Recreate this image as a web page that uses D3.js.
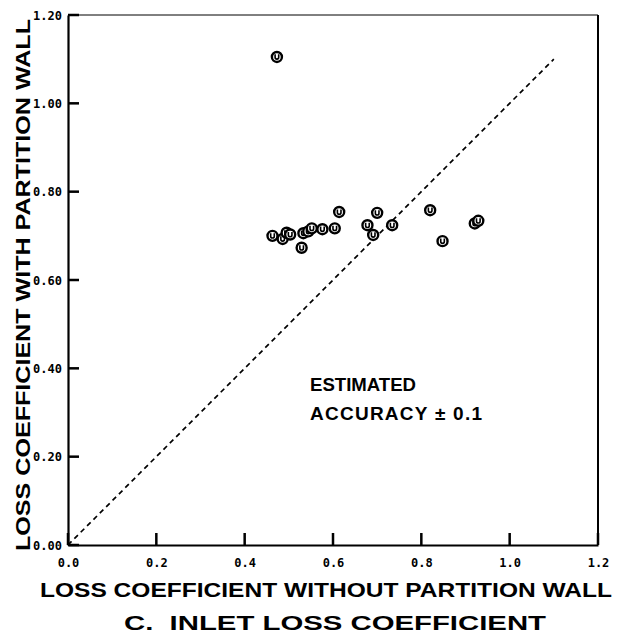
<!DOCTYPE html>
<html><head><meta charset="utf-8">
<script src="https://cdn.jsdelivr.net/npm/d3@7"></script>
<style>body{margin:0;background:#fff}svg{display:block}</style>
</head><body>
<script>
const xVals = [0.463,0.486,0.495,0.503,0.529,0.533,0.544,0.552,0.576,0.604,0.614,0.678,0.691,0.700,0.734,0.820,0.848,0.921,0.929,0.473];
const yVals = [0.700,0.693,0.707,0.703,0.673,0.706,0.710,0.717,0.715,0.717,0.754,0.724,0.702,0.752,0.724,0.758,0.688,0.728,0.734,1.105];
const xTicks = [0,0.2,0.4,0.6,0.8,1.0,1.2];
const xTickLabels = ["0.0","0.2","0.4","0.6","0.8","1.0","1.2"];
const yTicks = [0,0.2,0.4,0.6,0.8,1.0,1.2];
const yTickLabels = ["0.00","0.20","0.40","0.60","0.80","1.00","1.20"];
const refLine = [0,1.1];
const xTitle = "LOSS COEFFICIENT WITHOUT PARTITION WALL";
const yTitle = "LOSS COEFFICIENT WITH PARTITION WALL";
const caption = "C.  INLET LOSS COEFFICIENT";
const note1 = "ESTIMATED";
const note2 = "ACCURACY \u00B1 0.1";

const W=618,H=634;
const svg=d3.select("body").append("svg").attr("width",W).attr("height",H);
const x=d3.scaleLinear().domain([0,1.2]).range([68,598]);
const y=d3.scaleLinear().domain([0,1.2]).range([545,15]);

// frame
svg.append("line").attr("x1",x(0)).attr("x2",x(1.2)).attr("y1",y(1.2)).attr("y2",y(1.2)).attr("stroke","#000").attr("stroke-width",1);
svg.append("line").attr("x1",x(1.2)).attr("x2",x(1.2)).attr("y1",y(1.2)).attr("y2",y(0)).attr("stroke","#000").attr("stroke-width",2);

const tickFont = "bold 12px 'DejaVu Sans Mono', monospace";
const gx=svg.append("g").attr("transform",`translate(0,${y(0)})`)
  .call(d3.axisBottom(x).tickValues(xTicks).tickFormat((d,i)=>xTickLabels[i]).tickSize(0).tickPadding(13));
const gy=svg.append("g").attr("transform",`translate(${x(0)},0)`)
  .call(d3.axisLeft(y).tickValues(yTicks).tickFormat((d,i)=>yTickLabels[i]).tickSize(0).tickPadding(6));
[gx,gy].forEach(g=>{
  g.select(".domain").attr("stroke-width",2.2).attr("stroke","#000");
  g.selectAll(".tick text").style("font",tickFont).attr("fill","#000");
});
gy.selectAll(".tick text").attr("dy","0.35em");
// inward ticks
svg.append("g").selectAll("rect").data(xTicks).join("rect")
  .attr("x",d=>x(d)-1.25).attr("y",y(0)-12).attr("width",2.5).attr("height",12).attr("fill","#000");
svg.append("g").selectAll("rect").data(yTicks).join("rect")
  .attr("x",x(0)).attr("y",d=>y(d)-1.25).attr("width",11).attr("height",2.5).attr("fill","#000");

// diagonal
svg.append("line").attr("x1",x(refLine[0])).attr("y1",y(refLine[0])).attr("x2",x(refLine[1])).attr("y2",y(refLine[1]))
  .attr("stroke","#000").attr("stroke-width",1.7).attr("stroke-dasharray","5,4");

// points
const pts=svg.append("g").selectAll("g").data(xVals.map((v,i)=>[v,yVals[i]])).join("g")
  .attr("transform",d=>`translate(${x(d[0])},${y(d[1])})`);
pts.append("circle").attr("r",5).attr("fill","#fff").attr("stroke","#000").attr("stroke-width",2.4);
pts.append("path").attr("d","M-1.8,-2.6 L-1.8,0.4 A1.8,1.8 0 0 0 1.8,0.4 L1.8,-2.6").attr("fill","none").attr("stroke","#000").attr("stroke-width",1.6);

// titles
const tf="Liberation Sans, Arial, sans-serif";
svg.append("text").attr("x",40).attr("y",597).attr("textLength",572).attr("lengthAdjust","spacingAndGlyphs")
  .style("font",`bold 21px ${tf}`).attr("fill","#000").text(xTitle);
svg.append("text").attr("x",124).attr("y",630).attr("textLength",422).attr("lengthAdjust","spacingAndGlyphs")
  .style("font",`bold 20px ${tf}`).attr("fill","#000").style("white-space","pre").text(caption);
svg.append("text").attr("transform","translate(30,551) rotate(-90)").attr("textLength",532).attr("lengthAdjust","spacingAndGlyphs")
  .style("font",`bold 21px ${tf}`).attr("fill","#000").text(yTitle);
svg.append("text").attr("x",310).attr("y",391).attr("textLength",106).attr("lengthAdjust","spacingAndGlyphs")
  .style("font",`bold 19px ${tf}`).attr("fill","#000").text(note1);
svg.append("text").attr("x",310).attr("y",420).attr("textLength",172).attr("lengthAdjust","spacing")
  .style("font",`bold 19px ${tf}`).attr("fill","#000").style("white-space","pre").text(note2);
</script>
</body></html>
